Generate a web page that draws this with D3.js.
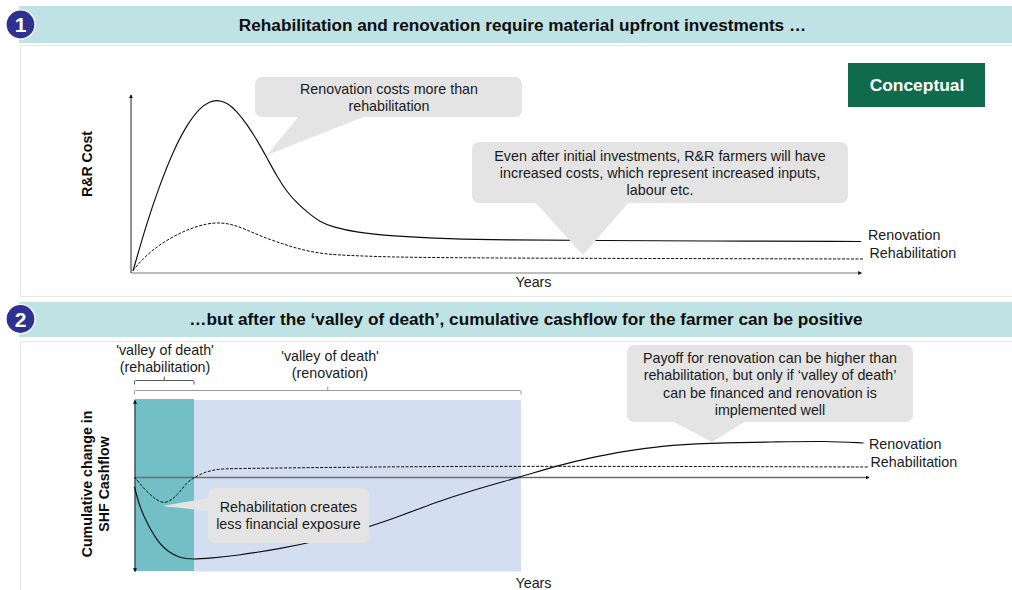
<!DOCTYPE html>
<html><head><meta charset="utf-8">
<script src="https://cdn.jsdelivr.net/npm/d3@7"></script>
<style>html,body{margin:0;padding:0;background:#fff;overflow:hidden}svg{display:block}text{font-family:"Liberation Sans",Arial,sans-serif}</style>
</head><body><svg id="c" width="1012" height="590"></svg>
<script>
// Panel 1: x = time units, y = cost index
const costYears=[0.2,1.57,2.9,4.2,5.6,6.9,7.9,8.6,9.6,10.6,11.6,12.6,13.6,14.6,15.6,16.6,17.6,18.9,20.2,22.6,25.9,31.9,37.5,46.9,56.9,73];
const costRenovation=[1.5,49.5,88,121,148,165,171,172.5,170,161,148,132.5,114.5,96,80.5,69.5,60.5,50.5,45.5,40,36.5,33.5,32.5,32,31.5,31];
const costRehabYears=[0.2,1.2,2.6,4.2,5.9,7.6,8.9,10.2,11.6,13.2,14.9,16.6,18.6,20.6,23.2,25.9,30.2,37.5,73.3];
const costRehabilitation=[2,14,26,36,44,49,50,48,42.5,35.5,29.5,24,19.5,17.5,16.5,15.5,15,14.3,13.5];
// Panel 2: x = time units, y = cumulative cashflow change
const cashRenoYears=[0,0.55,1.35,2.35,3.35,4.55,5.75,7.75,10,14.9,17.9,23.55,26.85,30.25,33.55,38.55,42.55,45.85,49.25,52.55,57.2,63.9,69.2,72.9];
const cashRenovation=[-10,-31,-48,-65,-75,-81,-82.5,-81,-79,-71,-65,-50,-38,-25,-14,0,12,20,26,31,34,35,36,34];
const cashRehabYears=[0,1.05,2.05,2.95,3.85,4.55,5.25,6.05,7.05,8.35,10,23.3,37.2,73.4];
const cashRehabilitation=[0,-13,-22,-27,-22,-15,-5,0,5,8,8.5,10,11,10];
const titles=["Rehabilitation and renovation require material upfront investments …","…but after the ‘valley of death’, cumulative cashflow for the farmer can be positive"];
const seriesNames=["Renovation","Rehabilitation"];

const svg=d3.select("#c");
const F=14.3;
const defs=svg.append("defs");
defs.append("marker").attr("id","ah").attr("viewBox","0 0 6 6").attr("refX",5).attr("refY",3)
 .attr("markerWidth",4).attr("markerHeight",4).attr("markerUnits","userSpaceOnUse").attr("orient","auto-start-reverse")
 .append("path").attr("d","M0,0L6,3L0,6Z").attr("fill","#111");

function label(x,y,t,o={}){
 return svg.append("text").attr("x",x).attr("y",y).attr("text-anchor",o.a||"middle")
  .attr("font-size",o.s||F).attr("font-weight",o.b?"bold":"normal").attr("fill",o.c||"#1a1a1a").text(t);
}
function multi(x,y,lines,lh){lines.forEach((t,i)=>label(x,y+i*lh,t));}

// frames
[[45,296],[341,590]].forEach(([t,b])=>{
 svg.append("path").attr("d",`M20.5,${b}V${t+.5}H1012`).attr("fill","none").attr("stroke","#e6e6e6");
});
svg.append("line").attr("x1",20).attr("x2",1012).attr("y1",296.5).attr("y2",296.5).attr("stroke","#e6e6e6");

// banners
[[6,37,24.5],[302,35,319]].forEach(([y,h,cy],i)=>{
 svg.append("rect").attr("x",19).attr("y",y).attr("width",993).attr("height",h).attr("fill","#bfe2e5");
 label(i?526:522.5,cy+6,titles[i],{s:17.2,b:true,c:"#0d0d0d"});
 svg.append("circle").attr("cx",20.5).attr("cy",cy).attr("r",14.5).attr("fill","#2e3192").attr("stroke","#fff").attr("stroke-width",1.2);
 label(20.5,cy+7.5,String(i+1),{s:21,b:true,c:"#fff"});
});

// Conceptual tag
svg.append("rect").attr("x",848).attr("y",63).attr("width",137).attr("height",44).attr("fill","#0f6b4c");
label(917,91,"Conceptual",{s:17.4,b:true,c:"#fff"});

// scales
const x1=d3.scaleLinear().domain([0,73]).range([131,861]);
const y1=d3.scaleLinear().domain([0,178]).range([272.5,94.5]);
const x2=d3.scaleLinear().domain([0,73.4]).range([134.5,868.5]);
const y2=d3.scaleLinear().domain([-94,77]).range([571,400]);

// shaded valley bands
const teal=5.95, blue=38.65;
svg.append("rect").attr("x",x2(0)).attr("y",399).attr("width",x2(teal)-x2(0)).attr("height",172).attr("fill","#72bfc5");
svg.append("rect").attr("x",x2(teal)).attr("y",400).attr("width",x2(blue)-x2(teal)).attr("height",171.5).attr("fill","#d3dff0");

// axes
function axis(gen,tx,ty,stroke,w){
 const g=svg.append("g").attr("transform",`translate(${tx},${ty})`).call(gen);
 g.selectAll(".tick").remove();
 g.select(".domain").attr("stroke",stroke).attr("stroke-width",w);
 return g;
}
const a1=axis(d3.axisBottom(x1).tickValues([]).tickSizeOuter(0),0,272.5,"#7a7a7a",1.2);
a1.select(".domain").attr("marker-end","url(#ah)");
const a2=axis(d3.axisLeft(y1).tickValues([]).tickSizeOuter(0),130.5,0,"#222",1);
a2.select(".domain").attr("marker-end","url(#ah)");
const a3=axis(d3.axisBottom(x2).tickValues([]).tickSizeOuter(0),0,477,"#6e6e6e",1.6);
a3.select(".domain").attr("marker-end","url(#ah)");
const a4=axis(d3.axisLeft(y2).tickValues([]).tickSizeOuter(0),134.5,0,"#222",1);
a4.select(".domain").attr("marker-start","url(#ah)").attr("marker-end","url(#ah)");

// curves
function curve(xs,ys,sx,sy,dashed){
 const line=d3.line().x((d,i)=>sx(xs[i])).y(d=>sy(d)).curve(d3.curveBasis);
 svg.append("path").attr("d",line(ys)).attr("fill","none").attr("stroke","#0d0d0d")
  .attr("stroke-width",dashed?1:1.15).attr("stroke-dasharray",dashed?"3 1.5":null);
}
curve(cashRenoYears,cashRenovation,x2,y2,false);
curve(cashRehabYears,cashRehabilitation,x2,y2,true);
curve(costYears,costRenovation,x1,y1,false);
curve(costRehabYears,costRehabilitation,x1,y1,true);

// callouts
function callout(x0,y0,x1_,y1_,tail){
 const g=svg.append("g").attr("fill","#e4e4e4");
 g.append("rect").attr("x",x0).attr("y",y0).attr("width",x1_-x0).attr("height",y1_-y0).attr("rx",7);
 g.append("polygon").attr("points",tail.map(p=>p.join(",")).join(" "));
}
callout(255,77,522,117,[[299,116],[366,116],[267,155]]);
callout(472,142,848,203,[[535,202],[629,202],[583,255]]);
callout(627,345,913,422,[[672,421],[746,421],[712,442]]);
callout(208,488,369,543,[[209,498],[209,511],[162,506]]);

multi(389,94,["Renovation costs more than","rehabilitation"],17);
multi(660,161,["Even after initial investments, R&R farmers will have","increased costs, which represent increased inputs,","labour etc."],17);
multi(770,363,["Payoff for renovation can be higher than","rehabilitation, but only if ‘valley of death’","can be financed and renovation is","implemented well"],17.3);
multi(288.5,512,["Rehabilitation creates","less financial exposure"],17);

// series labels
label(868,240,seriesNames[0],{a:"start"});
label(869.5,258,seriesNames[1],{a:"start"});
label(869,449,seriesNames[0],{a:"start"});
label(870.5,467,seriesNames[1],{a:"start"});
label(533.5,287,"Years");
label(533.5,588,"Years");

// axis titles
function vtitle(x,y,t){svg.append("text").attr("transform",`translate(${x},${y}) rotate(-90)`).attr("text-anchor","middle")
 .attr("font-size",14.2).attr("font-weight","bold").attr("fill","#0d0d0d").text(t);}
vtitle(91.5,164,"R&R Cost");
vtitle(91.5,484,"Cumulative change in");
vtitle(109,484,"SHF Cashflow");

// brackets
function bracket(a,b,y,h,tip,col){
 svg.append("path").attr("d",`M${a},${y+h}V${y+1}Q${a},${y} ${a+1},${y}H${b-1}Q${b},${y} ${b},${y+1}V${y+h}M${(a+b)/2},${y}V${y-tip}`)
 .attr("fill","none").attr("stroke",col).attr("stroke-width",1);
}
bracket(x2(0),x2(teal),380.5,4,4,"#5a5a5a");
bracket(x2(0),x2(blue),390.5,4,4,"#9a9a9a");
multi(165,354.5,["'valley of death'","(rehabilitation)"],17);
multi(330,360.5,["'valley of death'","(renovation)"],17);
</script></body></html>
